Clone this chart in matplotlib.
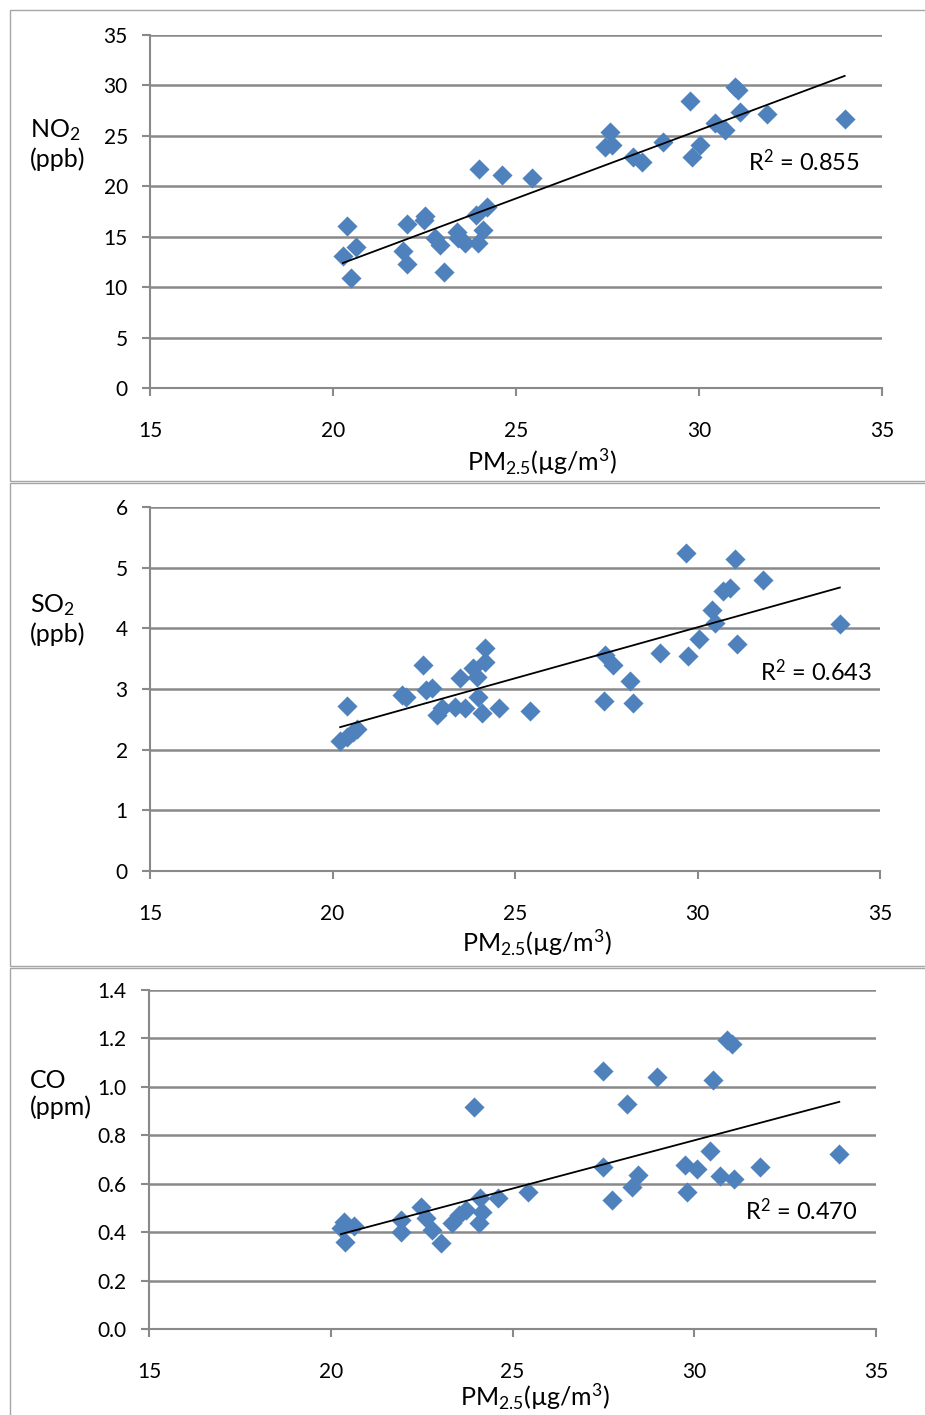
import numpy as np
import matplotlib.pyplot as plt
from matplotlib.patches import Rectangle

plt.rcParams['font.family'] = ['Lato', 'DejaVu Sans']
plt.rcParams['mathtext.default'] = 'regular'

# NO2 (ppb) vs PM2.5
no2_pm = [20.37, 20.63, 20.27, 20.48, 22.01, 21.90, 22.01, 22.51, 22.49, 22.79,
          22.92, 23.03, 23.40, 23.42, 23.60, 23.97, 24.00, 24.61, 25.43, 23.90,
          24.20, 24.10, 27.57, 27.61, 27.43, 28.20, 28.43, 29.02, 29.75, 30.03,
          29.81, 30.45, 30.71, 30.98, 31.07, 31.12, 31.85, 33.98]
no2 = [16.06, 14.0, 13.1, 10.87, 16.25, 13.6, 12.29, 17.1, 16.7, 14.84,
       14.17, 11.53, 15.49, 14.9, 14.34, 14.34, 21.67, 21.1, 20.78, 17.15,
       17.97, 15.66, 25.4, 24.08, 23.9, 22.9, 22.43, 24.41, 28.47, 24.08,
       22.9, 26.23, 25.57, 29.86, 29.53, 27.38, 27.13, 26.63]

# SO2 (ppb) vs PM2.5
so2_pm = [20.39, 20.21, 20.39, 20.57, 20.67, 21.90, 22.01, 22.47, 22.56, 22.72,
          22.85, 22.99, 23.36, 23.63, 23.49, 23.86, 23.95, 23.99, 24.09, 24.18,
          24.18, 24.57, 25.41, 27.47, 27.69, 28.97, 28.15, 27.44, 28.24, 29.68,
          29.75, 30.05, 30.39, 30.48, 30.69, 30.89, 31.03, 31.09, 31.79, 33.90]
so2 = [2.72, 2.14, 2.21, 2.29, 2.34, 2.90, 2.87, 3.40, 2.98, 3.01,
       2.57, 2.68, 2.71, 2.68, 3.18, 3.34, 3.20, 2.87, 2.61, 3.45,
       3.67, 2.68, 2.63, 3.56, 3.40, 3.60, 3.14, 2.81, 2.77, 5.25,
       3.54, 3.82, 4.30, 4.09, 4.62, 4.66, 5.15, 3.75, 4.80, 4.07]

# CO (ppm) vs PM2.5
co_pm = [20.28, 20.37, 20.40, 20.64, 21.93, 21.93, 22.48, 22.62, 22.79, 23.03,
         23.34, 23.53, 23.71, 23.94, 24.08, 24.16, 24.10, 24.60, 25.43, 27.50,
         28.98, 30.52, 31.03, 30.89, 28.16, 27.48, 27.73, 28.28, 28.46, 29.75,
         29.79, 30.07, 30.43, 30.71, 31.09, 31.81, 33.99]
co = [0.417, 0.443, 0.361, 0.427, 0.450, 0.402, 0.505, 0.457, 0.409, 0.354,
      0.437, 0.471, 0.490, 0.918, 0.437, 0.485, 0.540, 0.540, 0.567, 1.067,
      1.040, 1.030, 1.177, 1.194, 0.928, 0.670, 0.533, 0.588, 0.636, 0.677,
      0.567, 0.659, 0.736, 0.632, 0.618, 0.670, 0.721]

W, H = 925, 1415
fig = plt.figure(figsize=(W / 100, H / 100), dpi=100)

grey = '#898989'
blue = '#4f81bd'
fs = 15


def box(l, t, r, b):
    return [l / W, 1 - b / H, (r - l) / W, (b - t) / H]


def frame(t, b):
    fig.add_artist(Rectangle((10 / W, 1 - b / H), 1, (b - t) / H,
                             transform=fig.transFigure, fill=False,
                             ec='#a6a6a6', lw=1))


def panel(xs, ys, rect, yticks, fmt, r2, r2_pos, ylab, ylab_px, xlab_px):
    ax = fig.add_axes(rect)
    ax.set_xlim(15, 35)
    ax.set_ylim(yticks[0], yticks[-1])
    ax.set_xticks([15, 20, 25, 30, 35])
    ax.set_yticks(yticks)
    ax.set_yticklabels([fmt.format(v) for v in yticks])
    ax.yaxis.grid(True, color=grey, lw=1.8)
    ax.set_axisbelow(True)
    for s in ['top', 'right']:
        ax.spines[s].set_visible(False)
    for s in ['left', 'bottom']:
        ax.spines[s].set_color(grey)
        ax.spines[s].set_linewidth(1.5)
    ax.tick_params(axis='x', length=6, width=1.5, color=grey, pad=18, labelsize=fs)
    ax.tick_params(axis='y', length=6, width=1.5, color=grey, pad=10, labelsize=fs)
    ax.scatter(xs, ys, marker='D', s=105, color=blue, lw=0, zorder=3)
    k, c = np.polyfit(xs, ys, 1)
    tx = np.array([min(xs), max(xs)])
    ax.plot(tx, k * tx + c, color='black', lw=1.3, zorder=4)
    ax.text(r2_pos[0], r2_pos[1], r2, ha='right', va='center', fontsize=fs + 2)
    fig.text(30 / W, 1 - ylab_px / H, ylab, ha='left', va='center',
             fontsize=fs + 3, linespacing=1.2)
    fig.text(xlab_px[0] / W, 1 - xlab_px[1] / H, 'PM$_{2.5}$(\u00b5g/m$^3$)',
             ha='center', va='center', fontsize=fs + 3)
    return ax


frame(10, 481)
frame(483, 966)
frame(968, 1420)

panel(no2_pm, no2, box(150, 35, 882, 388), np.arange(0, 36, 5), '{:.0f}',
      'R$^2$ = 0.855', (34.4, 22.4), 'NO$_2$\n(ppb)', 144, (542, 462))
panel(so2_pm, so2, box(150, 507, 880, 871), np.arange(0, 7, 1), '{:.0f}',
      'R$^2$ = 0.643', (34.8, 3.28), 'SO$_2$\n(ppb)', 619, (537, 943))
panel(co_pm, co, box(149, 990, 876, 1329), np.round(np.arange(0, 1.41, 0.2), 1), '{:.1f}',
      'R$^2$ = 0.470', (34.5, 0.49), 'CO\n(ppm)', 1094, (535, 1397))

fig.savefig('out.png', dpi=100)
